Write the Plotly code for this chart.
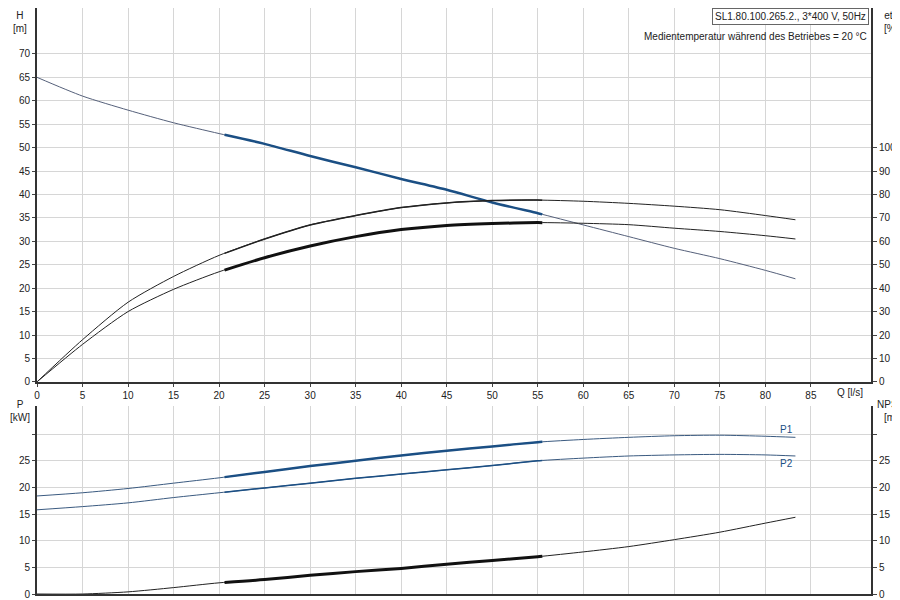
import plotly.graph_objects as go
import numpy as np

q = [0, 5, 10, 15, 20, 25, 30, 35, 40, 45, 50, 55, 60, 65, 70, 75, 80, 83.3]
h = [65, 61, 58, 55.3, 53, 50.8, 48.2, 45.8, 43.3, 41, 38.3, 36, 33.5, 31, 28.5, 26.3, 23.8, 22]
eta_pump = [0, 18, 34, 45, 54, 61, 67, 71, 74.4, 76.4, 77.4, 77.6, 77.1, 76.2, 75, 73.5, 71, 69.2]
eta_tot = [0, 16, 30, 39.5, 47, 53, 58, 62, 65, 66.8, 67.6, 68, 67.7, 67.1, 65.6, 64.2, 62.4, 61]
p1 = [18.4, 19, 19.8, 20.8, 21.8, 22.9, 24, 25, 26, 26.9, 27.7, 28.5, 29, 29.4, 29.7, 29.8, 29.6, 29.4]
p2 = [15.8, 16.4, 17.1, 18.1, 19.0, 19.9, 20.8, 21.7, 22.5, 23.3, 24.1, 25.0, 25.5, 25.9, 26.1, 26.2, 26.1, 25.9]
npsh = [0, 0, 0.4, 1.2, 2.1, 2.7, 3.5, 4.2, 4.8, 5.6, 6.3, 7.0, 7.9, 8.9, 10.2, 11.6, 13.3, 14.4]
q_op = (20.6, 55.5)
xticks = list(range(0, 90, 5))

BLUE = "#1b4f84"

def seg(xs, ys):
    pts = [x for x in xs if q_op[0] <= x <= q_op[1]]
    xi = [q_op[0]] + pts + [q_op[1]]
    yi = list(np.interp(xi, xs, ys))
    return xi, yi

fig = go.Figure()
def add(xs, ys, color, width, ax):
    fig.add_trace(go.Scatter(x=xs, y=ys, mode="lines",
                             line=dict(color=color, width=width, shape="spline", smoothing=0.7),
                             xaxis=ax[0], yaxis=ax[1], showlegend=False, hoverinfo="skip"))

add(q, h, "#55607a", 1, ("x", "y"))
add(*seg(q, h), BLUE, 2.5, ("x", "y"))
add(q, eta_pump, "#222", 1, ("x", "y2"))
add(*seg(q, eta_pump), "#222", 1.5, ("x", "y2"))
add(q, eta_tot, "#222", 1, ("x", "y2"))
add(*seg(q, eta_tot), "#111", 3, ("x", "y2"))
add(q, p1, "#3a5a80", 1, ("x2", "y3"))
add(*seg(q, p1), BLUE, 2.5, ("x2", "y3"))
add(q, p2, "#3a5a80", 1, ("x2", "y3"))
add(*seg(q, p2), BLUE, 1.5, ("x2", "y3"))
add(q, npsh, "#222", 1, ("x2", "y4"))
add(*seg(q, npsh), "#111", 3, ("x2", "y4"))

grid = dict(showgrid=True, gridcolor="#d6d6d6", gridwidth=1, zeroline=False)
tickf = dict(family="Liberation Sans, Arial", size=10, color="#222")
XR = [0, 91.6]
ax_common = dict(automargin=False, showline=True, linecolor="#333", linewidth=2)
tv = [0, 5, 10, 15, 20, 25, 30]
tt = ["0", "5", "10", "15", "20", "25", ""]
fig.update_layout(
    width=900, height=600, margin=dict(l=29, r=37, t=0, b=14, autoexpand=False),
    plot_bgcolor="white", paper_bgcolor="white", font=tickf,
    xaxis=dict(range=XR, tickvals=xticks, domain=[0, 1], anchor="y", ticks="outside", ticklen=3,
               **ax_common, **grid),
    xaxis2=dict(range=XR, tickvals=xticks, showticklabels=False, domain=[0, 1], anchor="y3",
                **ax_common, **grid),
    yaxis=dict(range=[0, 79.8], tickvals=list(range(0, 75, 5)), domain=[0.362, 1], ticks="outside", ticklen=3,
               **ax_common, **grid),
    yaxis2=dict(range=[0, 159.6], tickvals=list(range(0, 110, 10)), overlaying="y", side="right",
                ticks="outside", ticklen=4, showgrid=False, zeroline=False, **ax_common),
    yaxis3=dict(range=[0, 35.3], tickvals=tv, ticktext=tt, domain=[0, 0.321], ticks="outside", ticklen=3,
                **ax_common, **grid),
    yaxis4=dict(range=[0, 35.3], tickvals=tv, ticktext=tt, overlaying="y3", side="right", ticks="outside",
                ticklen=4, showgrid=False, zeroline=False, **ax_common),
)
ann = [
    dict(text="H<br>[m]", x=-0.02, y=1.0, xanchor="center", yanchor="top"),
    dict(text="eta<br>[%]", x=1.025, y=1.0, xanchor="center", yanchor="top"),
    dict(text="P<br>[kW]", x=-0.02, y=0.337, xanchor="center", yanchor="top"),
    dict(text="NPSH<br>[m]", x=1.024, y=0.337, xanchor="center", yanchor="top"),
    dict(text="Q [l/s]", x=0.975, y=0.357, xanchor="center", yanchor="top"),
    dict(text="SL1.80.100.265.2., 3*400 V, 50Hz", x=0.998, y=1.0, xanchor="right", yanchor="top",
         bordercolor="#666", borderwidth=1, bgcolor="white", borderpad=2),
    dict(text="Medientemperatur während des Betriebes = 20 °C", x=0.998, y=0.965, xanchor="right", yanchor="top"),
]
for a in ann:
    fig.add_annotation(xref="paper", yref="paper", showarrow=False, font=tickf, **a)
fig.add_annotation(x=83.3, y=29.4, xref="x2", yref="y3", text="P1", showarrow=False, xanchor="right",
                   yanchor="bottom", font=dict(family="Liberation Sans, Arial", size=10, color=BLUE))
fig.add_annotation(x=83.3, y=25.9, xref="x2", yref="y3", text="P2", showarrow=False, xanchor="right",
                   yanchor="top", font=dict(family="Liberation Sans, Arial", size=10, color=BLUE))
fig.write_html("out.html")
